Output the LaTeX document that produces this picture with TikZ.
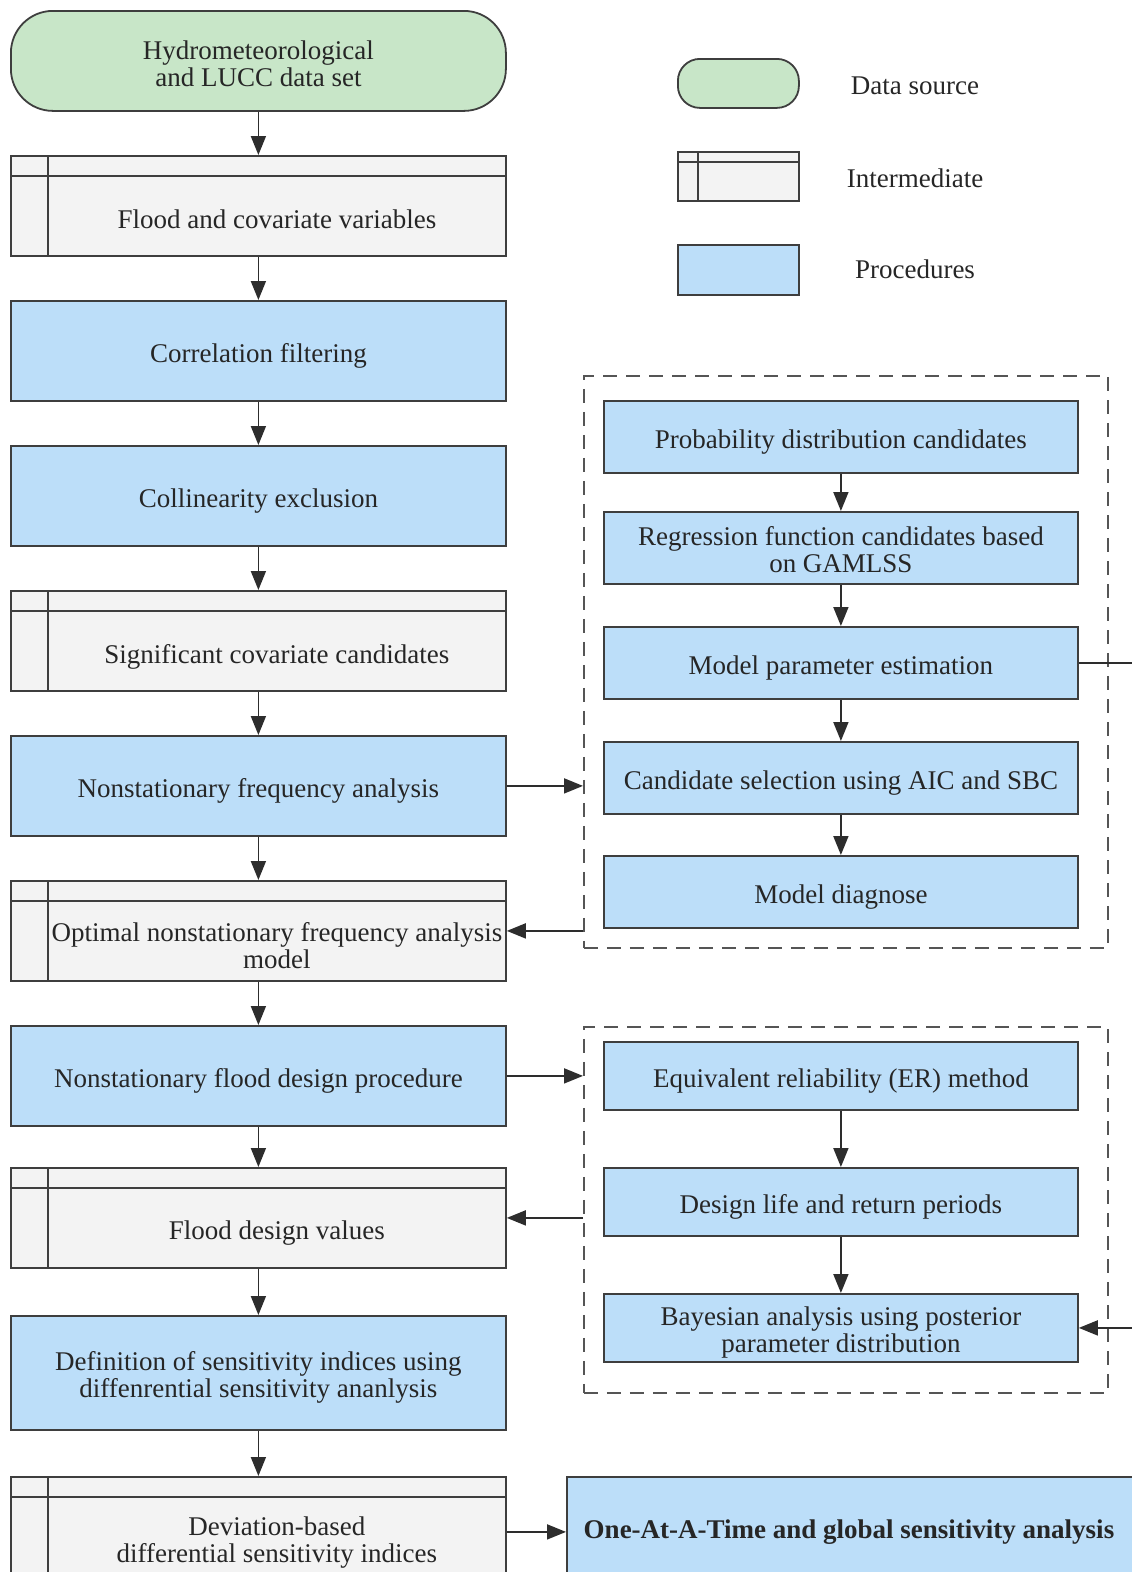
\documentclass[tikz,border=0pt]{standalone}
\usepackage{fontspec}
\setmainfont{Liberation Serif}
\usetikzlibrary{arrows.meta,calc}
\definecolor{bord}{RGB}{62,62,62}
\definecolor{arrcol}{RGB}{45,45,45}
\definecolor{txt}{RGB}{38,38,38}
\definecolor{srcfill}{RGB}{200,230,200}
\definecolor{procfill}{RGB}{188,222,249}
\definecolor{interfill}{RGB}{243,243,243}
\definecolor{dashcol}{RGB}{85,85,85}
\begin{document}
\begin{tikzpicture}[x=1pt,y=-1pt,
  font=\fontsize{27}{27}\selectfont, text=txt,
  box/.style={draw=bord, line width=1.8pt, inner sep=0pt, align=center, anchor=north west,
              text height=28.3pt, text depth=6pt},
  twol/.style={text height=55.3pt, text depth=6pt},
  srcbox/.style={box, fill=srcfill, rounded corners=#1},
  proc/.style={box, fill=procfill},
  inter/.style 2 args={box, fill=interfill, path picture={
     \draw[bord, line width=1.8pt] ([xshift=#1]path picture bounding box.north west) -- ([xshift=#1]path picture bounding box.south west);
     \draw[bord, line width=1.8pt] ([yshift=-#2]path picture bounding box.north west) -- ([yshift=-#2]path picture bounding box.north east);}},
  dbox/.style={draw=dashcol, line width=1.8pt, dash pattern=on 14pt off 9pt, anchor=north west, inner sep=0pt},
  arr/.style={draw=arrcol, line width=1.8pt, -{Triangle[length=19pt,width=15pt]}},
  ltext/.style={anchor=center, align=center}
]
\useasboundingbox (0,0) rectangle (1132,1572);
\clip (0,0) rectangle (1132,1572);

% ---------- left column ----------
\node[srcbox=42pt, text height=51pt, text depth=0pt, minimum width=495pt, minimum height=100pt] (data) at (10,10) {Hydrometeorological\\and LUCC data set};
\node[inter={37pt}{20pt}, minimum width=495pt, minimum height=100pt] (fcv) at (10,155) {};
\node[ltext] (fcvt) at ($(fcv.center)+(18.5,13)$) {Flood and covariate variables};
\node[proc, minimum width=495pt, minimum height=100pt] (corr) at (10,300) {Correlation filtering};
\node[proc, minimum width=495pt, minimum height=100pt] (coll) at (10,445) {Collinearity exclusion};
\node[inter={37pt}{20pt}, minimum width=495pt, minimum height=100pt] (sig) at (10,590) {};
\node[ltext] (sigt) at ($(sig.center)+(18.5,16)$) {Significant covariate candidates};
\node[proc, minimum width=495pt, minimum height=100pt] (nfa) at (10,735) {Nonstationary frequency analysis};
\node[inter={37pt}{20pt}, minimum width=495pt, minimum height=100pt] (opt) at (10,880) {};
\node[ltext] (optt) at ($(opt.center)+(18.5,15)$) {Optimal nonstationary frequency analysis\\model};
\node[proc, minimum width=495pt, minimum height=100pt] (nfd) at (10,1025) {Nonstationary flood design procedure};
\node[inter={37pt}{20pt}, minimum width=495pt, minimum height=100pt] (fdv) at (10,1167) {};
\node[ltext] (fdvt) at ($(fdv.center)+(18.5,15)$) {Flood design values};
\node[proc, twol, minimum width=495pt, minimum height=114pt] (def) at (10,1315) {Definition of sensitivity indices using\\diffenrential sensitivity ananlysis};
\node[inter={37pt}{20pt}, minimum width=495pt, minimum height=100pt] (dev) at (10,1476) {};
\node[ltext] (devt) at ($(dev.center)+(18.5,16)$) {Deviation-based\\differential sensitivity indices};

% ---------- legend ----------
\node[srcbox=22pt, minimum width=121pt, minimum height=49pt] (lg1) at (677,58) {};
\node[ltext] (lg1t) at (915,86) {Data source};
\node[inter={20pt}{10pt}, minimum width=121pt, minimum height=49pt] (lg2) at (677,151) {};
\node[ltext] (lg2t) at (915,178) {Intermediate};
\node[proc, minimum width=121pt, minimum height=50pt] (lg3) at (677,244) {};
\node[ltext] (lg3t) at (915,269) {Procedures};

% ---------- group 1 ----------
\node[dbox, minimum width=524pt, minimum height=572pt] (g1) at (583,375) {};
\node[proc, minimum width=474pt, minimum height=72pt] (pdc) at (603,400) {Probability distribution candidates};
\node[proc, twol, text depth=0pt, text height=50pt, minimum width=474pt, minimum height=72pt] (rfc) at (603,511) {Regression function candidates based\\on GAMLSS};
\node[proc, minimum width=474pt, minimum height=72pt] (mpe) at (603,626) {Model parameter estimation};
\node[proc, minimum width=474pt, minimum height=72pt] (csel) at (603,741) {Candidate selection using AIC and SBC};
\node[proc, minimum width=474pt, minimum height=72pt] (mdg) at (603,855) {Model diagnose};

% ---------- group 2 ----------
\node[dbox, minimum width=524pt, minimum height=366pt] (g2) at (583,1026) {};
\node[proc, minimum width=474pt, minimum height=68pt] (er) at (603,1041) {Equivalent reliability (ER) method};
\node[proc, minimum width=474pt, minimum height=68pt] (dlr) at (603,1167) {Design life and return periods};
\node[proc, twol, minimum width=474pt, minimum height=68pt] (bay) at (603,1293) {Bayesian analysis using posterior\\parameter distribution};

% ---------- bottom right ----------
\node[proc, minimum width=600pt, minimum height=110pt] (oat) at (566,1476) {};
\node[ltext, font=\fontsize{27}{27}\selectfont\bfseries] (oatt) at (849,1532) {One-At-A-Time and global sensitivity analysis};

% ---------- connectors ----------
\draw[arr] (data) -- (fcv);
\draw[arr] (fcv) -- (corr);
\draw[arr] (corr) -- (coll);
\draw[arr] (coll) -- (sig);
\draw[arr] (sig) -- (nfa);
\draw[arr] (nfa) -- (opt);
\draw[arr] (opt) -- (nfd);
\draw[arr] (nfd) -- (fdv);
\draw[arr] (fdv) -- (def);
\draw[arr] (def) -- (dev);

\draw[arr] (pdc) -- (rfc);
\draw[arr] (rfc) -- (mpe);
\draw[arr] (mpe) -- (csel);
\draw[arr] (csel) -- (mdg);
\draw[arr] (er) -- (dlr);
\draw[arr] (dlr) -- (bay);

\draw[arr] (nfa.east) -- (nfa.east -| g1.west);
\draw[arr] (opt.east -| g1.west) -- (opt.east);
\draw[arr] (nfd.east) -- (nfd.east -| g2.west);
\draw[arr] (fdv.east -| g2.west) -- (fdv.east);
\coordinate (rt) at (1170,0);
\draw[arr] (mpe.east) -- (mpe.east -| rt) -- (bay.east -| rt) -- (bay.east);
\draw[arr] (dev.east |- oat.west) -- (oat.west);
\end{tikzpicture}
\end{document}
